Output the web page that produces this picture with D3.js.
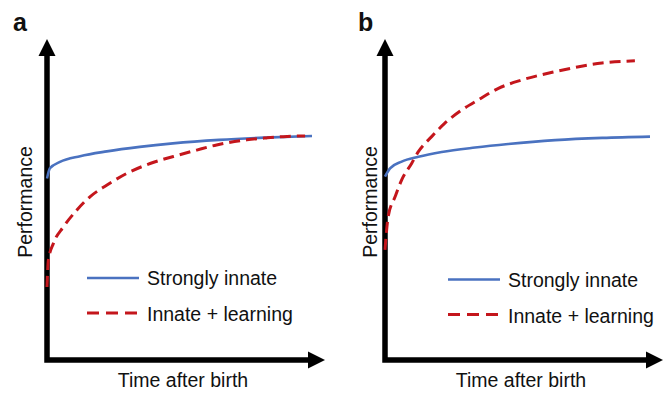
<!DOCTYPE html>
<html>
<head>
<meta charset="utf-8">
<script src="https://cdn.jsdelivr.net/npm/d3@7"></script>
<style>
  body { margin: 0; background: #fff; }
  text { font-family: "Liberation Sans", Arial, sans-serif; fill: #111; }
</style>
</head>
<body>
<div id="chart"></div>
<script>
const width = 670;
const height = 398;

const legendLabels = ["Strongly innate", "Innate + learning"];
const xTitle = "Time after birth";
const yTitle = "Performance";

// Curvas: [tempo, desempenho], escala 0-100
const innateA = [[0, 56.7], [1.1, 59.9], [4.9, 61.9], [12.5, 63.7], [22.6, 65.2], [35, 66.6],
    [47.5, 67.7], [65, 68.8], [82, 69.5], [100, 70]];
const learnA = [[0, 22.8], [0.5, 31.1], [2.4, 36.4], [6.2, 41.6], [11.2, 46.8], [16.2, 51],
    [22.5, 54.6], [30.1, 58.3], [38.9, 61.4], [47.7, 63.6], [56.5, 65.6], [64, 67.2],
    [75.4, 68.8], [82.9, 69.4], [89.2, 69.8], [95.5, 70], [97.4, 70]];

const innateB = [[0, 57.3], [1.9, 59.9], [6.3, 62], [12.6, 63.5], [21.4, 65], [34, 66.4],
    [46.5, 67.5], [64.2, 68.7], [82, 69.4], [100, 69.8]];
const learnB = [[0, 34.4], [1.2, 44.8], [3.8, 51], [6.3, 56.3], [10.1, 61.5], [12.6, 65.1],
    [17.6, 69.8], [22.6, 74], [28.9, 78.1], [35.2, 81.3], [42.8, 84.9], [51.6, 87.5],
    [64.2, 90.1], [81.9, 92.8], [94.3, 93.5]];

const blue = "#4a72c0";
const red = "#c4161c";

const panels = [
    { label: "a", x0: 47, labelX: 13, innate: innateA, learn: learnA, legendX: 87, legendY: 278, yTitleX: 32 },
    { label: "b", x0: 385, labelX: 358, innate: innateB, learn: learnB, legendX: 448, legendY: 279.5, yTitleX: 377 }
];

const svg = d3.select("#chart").append("svg")
    .attr("width", width)
    .attr("height", height);

panels.forEach(p => {
    const x = d3.scaleLinear().domain([0, 100]).range([p.x0, p.x0 + 265]);
    const y = d3.scaleLinear().domain([0, 100]).range([360, 40]);
    const g = svg.append("g");

    // Eixos com setas
    const tipX = x(0) + 278;
    const tipY = 39;
    g.append("path")
        .attr("d", `M${x(0)},${tipY + 14}V${y(0)}H${tipX - 14}`)
        .attr("fill", "none")
        .attr("stroke", "#000")
        .attr("stroke-width", 5.5)
        .attr("stroke-linejoin", "miter");
    g.append("path")
        .attr("d", `M${x(0)},${tipY}L${x(0) - 8.5},${tipY + 17}L${x(0) + 8.5},${tipY + 17}Z`)
        .attr("fill", "#000");
    g.append("path")
        .attr("d", `M${tipX},${y(0)}L${tipX - 17},${y(0) - 8.5}L${tipX - 17},${y(0) + 8.5}Z`)
        .attr("fill", "#000");

    const line = d3.line()
        .x(d => x(d[0]))
        .y(d => y(d[1]))
        .curve(d3.curveMonotoneX);

    g.append("path")
        .datum(p.innate)
        .attr("d", line)
        .attr("fill", "none")
        .attr("stroke", blue)
        .attr("stroke-width", 2.6);

    g.append("path")
        .datum(p.learn)
        .attr("d", line)
        .attr("fill", "none")
        .attr("stroke", red)
        .attr("stroke-width", 3)
        .attr("stroke-dasharray", "11,6");

    // Legenda
    g.append("line")
        .attr("x1", p.legendX).attr("x2", p.legendX + 52)
        .attr("y1", p.legendY).attr("y2", p.legendY)
        .attr("stroke", blue).attr("stroke-width", 2.6);
    g.append("line")
        .attr("x1", p.legendX).attr("x2", p.legendX + 50)
        .attr("y1", p.legendY + 35).attr("y2", p.legendY + 35)
        .attr("stroke", red).attr("stroke-width", 3)
        .attr("stroke-dasharray", "12,7");
    legendLabels.forEach((t, i) => {
        g.append("text")
            .attr("x", p.legendX + 60)
            .attr("y", p.legendY + 7 + i * 36)
            .attr("font-size", 19.5)
            .text(t);
    });

    // Títulos
    g.append("text")
        .attr("x", x(0) + 136)
        .attr("y", 387)
        .attr("text-anchor", "middle")
        .attr("font-size", 19.5)
        .text(xTitle);
    g.append("text")
        .attr("transform", `translate(${p.yTitleX},202) rotate(-90)`)
        .attr("text-anchor", "middle")
        .attr("font-size", 19.5)
        .text(yTitle);

    g.append("text")
        .attr("x", p.labelX)
        .attr("y", 31)
        .attr("font-size", 25)
        .attr("font-weight", "bold")
        .text(p.label);
});
</script>
</body>
</html>
